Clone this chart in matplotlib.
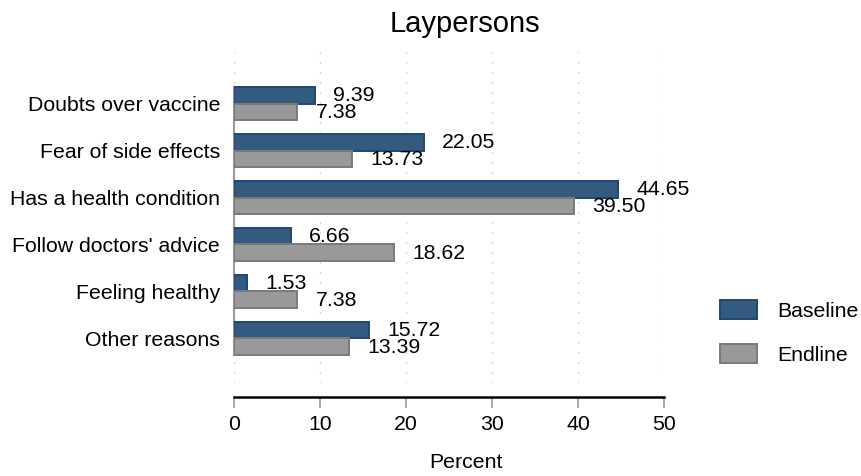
import numpy as np
import matplotlib
matplotlib.use("Agg")
import matplotlib.pyplot as plt

plt.rcParams["font.family"] = ["Liberation Sans", "DejaVu Sans"]

# data
reasons = ["Doubts over vaccine", "Fear of side effects", "Has a health condition",
           "Follow doctors' advice", "Feeling healthy", "Other reasons"]
baseline = [9.39, 22.05, 44.65, 6.66, 1.53, 15.72]
endline = [7.38, 13.73, 39.50, 18.62, 7.38, 13.39]
series_names = ["Baseline", "Endline"]
x_ticks = [0, 10, 20, 30, 40, 50]

FS = 15.3
W, H = 862, 476
fig = plt.figure(figsize=(W / 100, H / 100), dpi=100)
ax = fig.add_axes([234 / W, 1 - 383 / H, 430 / W, 331 / H])

y = np.arange(len(reasons))
bh = 0.35
base_bars = ax.barh(y - bh / 2, baseline, height=bh, color="#345a7f",
                    edgecolor="#1d4872", linewidth=1.4, label=series_names[0], zorder=3)
end_bars = ax.barh(y + bh / 2, endline, height=bh, color="#999999",
                   edgecolor="#7a7a7a", linewidth=1.4, label=series_names[1], zorder=3)

# value labels
for bars, vals in [(base_bars, baseline), (end_bars, endline)]:
    for b, v in zip(bars, vals):
        ax.annotate(f"{v:.2f}", (v, b.get_y() + b.get_height() / 2),
                    xytext=(13, -0.5), textcoords="offset points",
                    va="center", ha="left", fontsize=FS, zorder=4,
                    annotation_clip=False)

ax.set_xlim(0, 50)
ax.set_ylim(5.947, -1.096)
ax.set_xticks(x_ticks)
ax.set_yticks(y)
ax.set_yticklabels(reasons, fontsize=FS)
ax.tick_params(axis="y", length=0, pad=10)
ax.tick_params(axis="x", labelsize=FS, length=8, width=1.2, color="#999999", pad=5)

ax.grid(axis="x", color="#bbbbbb", linestyle=(0, (1, 7)), linewidth=0.9, zorder=0)

for s in ["top", "right"]:
    ax.spines[s].set_visible(False)
ax.spines["bottom"].set_position(("outward", 10))
ax.spines["bottom"].set_linewidth(1.8)
ax.spines["left"].set_color("#999999")
ax.spines["left"].set_linewidth(1.5)
ax.spines["left"].set_bounds(-bh, len(reasons) - 1 + bh)

fig.text(465 / W, 1 - 24 / H, "Laypersons", ha="center", va="center", fontsize=21)
fig.text(466 / W, 1 - 462 / H, "Percent", ha="center", va="center", fontsize=FS)

fig.legend(handles=[base_bars, end_bars], labels=series_names,
           loc="upper left", bbox_to_anchor=(720 / W, 1 - 300 / H),
           frameon=False, fontsize=FS, handlelength=1.75, handleheight=1.0,
           handletextpad=0.95, labelspacing=1.1, borderpad=0, borderaxespad=0)

fig.savefig("out.png", dpi=100)
